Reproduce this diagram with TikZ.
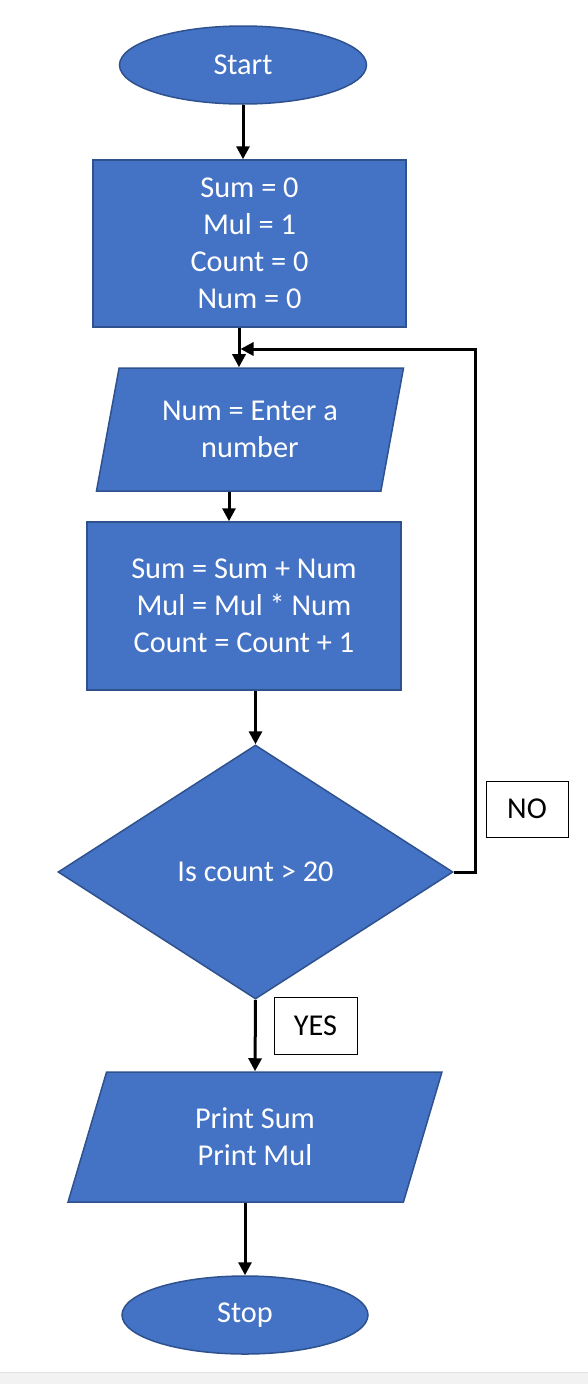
\documentclass[tikz,border=0pt]{standalone}
\usepackage{fontspec}
\setmainfont{Carlito}
\usetikzlibrary{shapes.geometric, arrows.meta}
\definecolor{fillblue}{HTML}{4472C4}
\definecolor{edgeblue}{HTML}{2F528F}
\definecolor{bandgray}{HTML}{F2F2F2}
\tikzset{
  every node/.style={font=\fontsize{30.3}{37}\selectfont, align=center, inner sep=0pt},
  termshape/.style={ellipse, draw=edgeblue, fill=fillblue, line width=1.5pt, text=white,
    minimum width=247pt, minimum height=78pt},
  procbox/.style={rectangle, draw=edgeblue, fill=fillblue, line width=1.5pt, text=white},
  ioshape/.style={trapezium, trapezium left angle=75, trapezium right angle=105,
    trapezium stretches=true, draw=edgeblue, fill=fillblue, line width=1.5pt, text=white},
  decide/.style={diamond, draw=edgeblue, fill=fillblue, line width=1.5pt, text=white,
    minimum width=395pt, minimum height=254pt},
  tagbox/.style={rectangle, draw=black, line width=1pt, text=black,
    minimum width=82pt, minimum height=56pt},
  flowarrow/.style={line width=3pt, -{Triangle[length=13pt, width=13pt]}}
}

\begin{document}
\begin{tikzpicture}[x=1pt, y=-1pt]
        \useasboundingbox (0, 0) rectangle (588, 1384);
        \fill[bandgray] (0, 1372) rectangle (588, 1384);
        \draw[black!12, line width = 1pt] (0, 1372) -- (588, 1372);

        \node[termshape] (start) at (243, 65) {Start};
        \node[procbox, minimum width=313pt, minimum height=167pt] (init) at (249.5, 243.5)
          {Sum = 0\\ Mul = 1\\ Count = 0\\ Num = 0};
        \node[ioshape, minimum width=308pt, minimum height=123pt] (input) at (250, 429.5)
          {Num = Enter a\\ number};
        \node[procbox, minimum width=314pt, minimum height=168pt] (update) at (244, 606)
          {Sum = Sum + Num\\ Mul = Mul * Num\\ Count = Count + 1};
        \node[decide] (check) at (255.5, 872) {Is count > 20};
        \node[ioshape, minimum width=374pt, minimum height=130pt] (output) at (255, 1137)
          {Print Sum\\ Print Mul};
        \node[termshape, minimum width=246pt] (stop) at (245, 1315) {Stop};

        \node[tagbox] (no) at (527, 809) {NO};
        \node[tagbox, minimum width=83pt, minimum height=57pt] (yes) at (315.5, 1025.5) {YES};

        \coordinate (join) at (239, 349);
        \coordinate (loopc) at (475, 349);

        \draw[flowarrow] (start.south) -- (start.south |- init.north);
        \draw[flowarrow] (init.south -| join) -- (join |- input.north);
        \draw[flowarrow] (input.south -| 229, 0) -- (update.north -| 229, 0);
        \draw[flowarrow] (update.south -| check.north) -- (check.north);
        \draw[flowarrow] (check.south) -- (output.north);
        \draw[flowarrow] (output.south -| stop.north) -- (stop.north);
        \draw[flowarrow] (check.east) -| (loopc) -- ([xshift=1.5pt]join);
\end{tikzpicture}
\end{document}
